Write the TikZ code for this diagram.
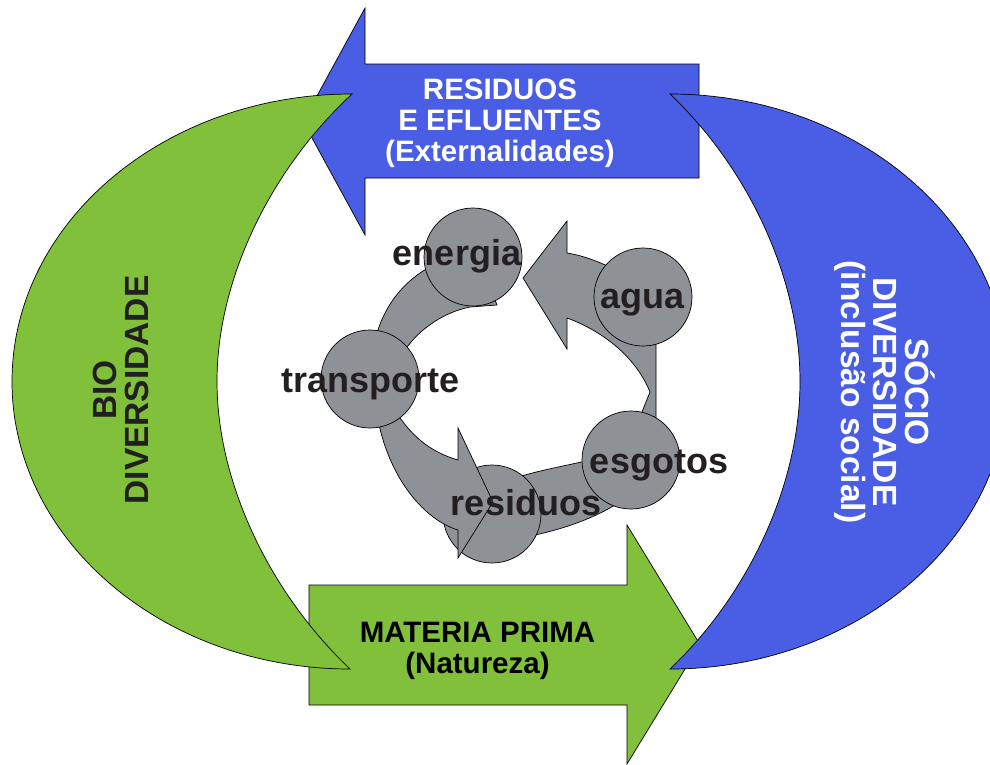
\documentclass[tikz,border=0pt]{standalone}
\usepackage{fontspec}
\setmainfont{Liberation Sans}
\definecolor{bblue}{RGB}{74,94,229}
\definecolor{bgreen}{RGB}{128,192,58}
\definecolor{cgray}{RGB}{142,145,149}
\definecolor{dtext}{RGB}{35,31,32}
\begin{document}
\begin{tikzpicture}[x=1pt,y=-1pt,
  outl/.style={draw=black,line width=0.7pt,line join=miter},
  blueshape/.style={outl,fill=bblue},
  greenshape/.style={outl,fill=bgreen},
  grayshape/.style={outl,fill=cgray},
  circ/.style={circle,outl,fill=cgray,minimum size=98pt,inner sep=0pt},
  bigtxt/.style={align=center,inner sep=0pt,font=\fontsize{29.5}{31}\selectfont\bfseries},
  sidetxt/.style={align=center,inner sep=0pt,font=\fontsize{33.5}{32}\selectfont\bfseries},
  lbl/.style={anchor=base,inner sep=0pt,text=dtext,font=\fontsize{36}{40}\selectfont\bfseries}]
\useasboundingbox (0,0) rectangle (990,764);
\clip (0,0) rectangle (990,764);
% top blue arrow
\draw[blueshape] (303,121.5) -- (365,8) -- (365,64) -- (699,64) -- (699,178) -- (365,178) -- (365,235) -- cycle;
\node[bigtxt,text=white] (residuostxt) at (500,123.5) {RESIDUOS\\E EFLUENTES\\(Externalidades)};
% bottom green arrow
\draw[greenshape] (309,585) -- (627,585) -- (627,525) -- (700,644.5) -- (627,764) -- (627,705) -- (309,705) -- cycle;
\node[bigtxt,text=black] (materiatxt) at (477.5,651) {MATERIA PRIMA\\(Natureza)};
% green crescent
\draw[greenshape] (352,94) .. controls (270,170) and (217,280) .. (217,381.5)
  .. controls (217,483) and (270,593) .. (350,669)
  .. controls (164,669) and (12,540.3) .. (12,381.5)
  .. controls (12,222.7) and (164,94) .. (352,94) -- cycle;
\node[sidetxt,text=dtext,rotate=90] (biotxt) at (120.5,390) {BIO\\DIVERSIDADE};
% blue crescent
\draw[blueshape] (670,94) .. controls (750,170) and (800,280) .. (800,381.5)
  .. controls (800,483) and (750,593) .. (670,669)
  .. controls (855,669) and (1008,540.3) .. (1008,381.5)
  .. controls (1008,222.7) and (855,94) .. (670,94) -- cycle;
\node[sidetxt,text=white,rotate=-90] (sociotxt) at (885,392) {SÓCIO\\DIVERSIDADE\\(inclusão social)};
% gray cycle bands
\draw[grayshape] (375,340) .. controls (385,300) and (410,275) .. (440,262) -- (480,262) -- (497,305) -- (470,307)
  .. controls (445,312) and (420,328) .. (405,350) -- cycle;
\draw[grayshape] (515,478) .. controls (540,470) and (565,466) .. (590,460) -- (615,505)
  .. controls (590,520) and (560,530) .. (530,536) -- cycle;
\draw[grayshape] (567,253) -- (567,221) -- (523,278) -- (567,349) -- (567,318)
  .. controls (600,330) and (635,355) .. (650,392) -- (642,412) -- (645,445) -- (656,430) -- (656,320) -- (620,272)
  .. controls (600,262) and (585,256) .. (567,253) -- cycle;
% circles
\node[circ] (energia) at (473,257) {};
\node[circ] (agua) at (643,297) {};
\node[circ] (esgotos) at (631,460) {};
\node[circ] (residuos) at (492,514) {};
\draw[grayshape] (458,460) -- (458,428) -- (493,502) -- (458,558) -- (458,530)
  .. controls (425,520) and (390,480) .. (378,420) -- (395,410)
  .. controls (410,435) and (430,452) .. (458,460) -- cycle;
\node[circ] (transporte) at (370,379) {};
% labels
\node[lbl] (energiatxt) at (457,265) {energia};
\node[lbl] (aguatxt) at (642.5,308) {agua};
\node[lbl] (transportetxt) at (370.5,392) {transporte};
\node[lbl] (esgotostxt) at (659,473) {esgotos};
\node[lbl] (residuostxt2) at (526,515) {residuos};
\end{tikzpicture}
\end{document}
